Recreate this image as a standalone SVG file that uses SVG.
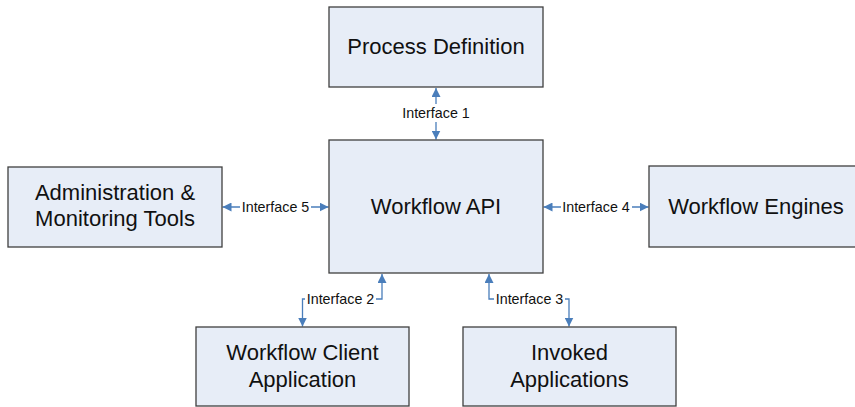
<svg xmlns="http://www.w3.org/2000/svg" width="855" height="407" viewBox="0 0 855 407">
<style>
.box{fill:#e7edf7;stroke:#3f3f3f;stroke-width:1.3}
.big{font-family:"Liberation Sans",Arial,sans-serif;font-size:22px;fill:#111;text-anchor:middle}
.lbl{font-family:"Liberation Sans",Arial,sans-serif;font-size:14.3px;fill:#111;text-anchor:middle}
.con{fill:none;stroke:#4a7ebb;stroke-width:1.3}
.bg{fill:#fff}
</style>
<defs>
<marker id="ah" viewBox="0 0 10 10" refX="10" refY="5" markerWidth="9" markerHeight="9" markerUnits="userSpaceOnUse" orient="auto-start-reverse">
<path d="M0,0 L10,5 L0,10 z" fill="#4a7ebb"/>
</marker>
</defs>
<g id="connectors">
<line class="con" x1="436" y1="88" x2="436" y2="139.5" marker-start="url(#ah)" marker-end="url(#ah)"/>
<line class="con" x1="222.5" y1="207" x2="328.5" y2="207" marker-start="url(#ah)" marker-end="url(#ah)"/>
<line class="con" x1="543.5" y1="207" x2="648.5" y2="207" marker-start="url(#ah)" marker-end="url(#ah)"/>
<polyline class="con" points="382,274 382,299 302.5,299 302.5,326.5" marker-start="url(#ah)" marker-end="url(#ah)"/>
<polyline class="con" points="489,274 489,299 569,299 569,326.5" marker-start="url(#ah)" marker-end="url(#ah)"/>
<rect class="bg" x="401" y="104" width="70" height="18"/>
<rect class="bg" x="240" y="199" width="71" height="16"/>
<rect class="bg" x="561" y="199" width="71" height="16"/>
<rect class="bg" x="305" y="291" width="71" height="16"/>
<rect class="bg" x="494" y="291" width="71" height="16"/>
<text class="lbl" x="436" y="118">Interface 1</text>
<text class="lbl" x="275.5" y="212">Interface 5</text>
<text class="lbl" x="596" y="212">Interface 4</text>
<text class="lbl" x="340.5" y="304">Interface 2</text>
<text class="lbl" x="529.5" y="304">Interface 3</text>
</g>
<g id="process-definition">
<rect class="box" x="329" y="7" width="214" height="80"/>
<text class="big" x="436" y="54">Process Definition</text>
</g>
<g id="workflow-api">
<rect class="box" x="329" y="140" width="214" height="133"/>
<text class="big" x="436" y="214">Workflow API</text>
</g>
<g id="admin-tools">
<rect class="box" x="8" y="167" width="214" height="80"/>
<text class="big" x="115" y="200">Administration &amp;</text>
<text class="big" x="115" y="226">Monitoring Tools</text>
</g>
<g id="workflow-engines">
<rect class="box" x="649" y="166" width="214" height="81"/>
<text class="big" x="756" y="214">Workflow Engines</text>
</g>
<g id="workflow-client">
<rect class="box" x="196" y="327" width="213" height="79"/>
<text class="big" x="302.5" y="360">Workflow Client</text>
<text class="big" x="302.5" y="387">Application</text>
</g>
<g id="invoked-apps">
<rect class="box" x="463" y="327" width="213" height="79"/>
<text class="big" x="569.5" y="360">Invoked</text>
<text class="big" x="569.5" y="387">Applications</text>
</g>
</svg>
